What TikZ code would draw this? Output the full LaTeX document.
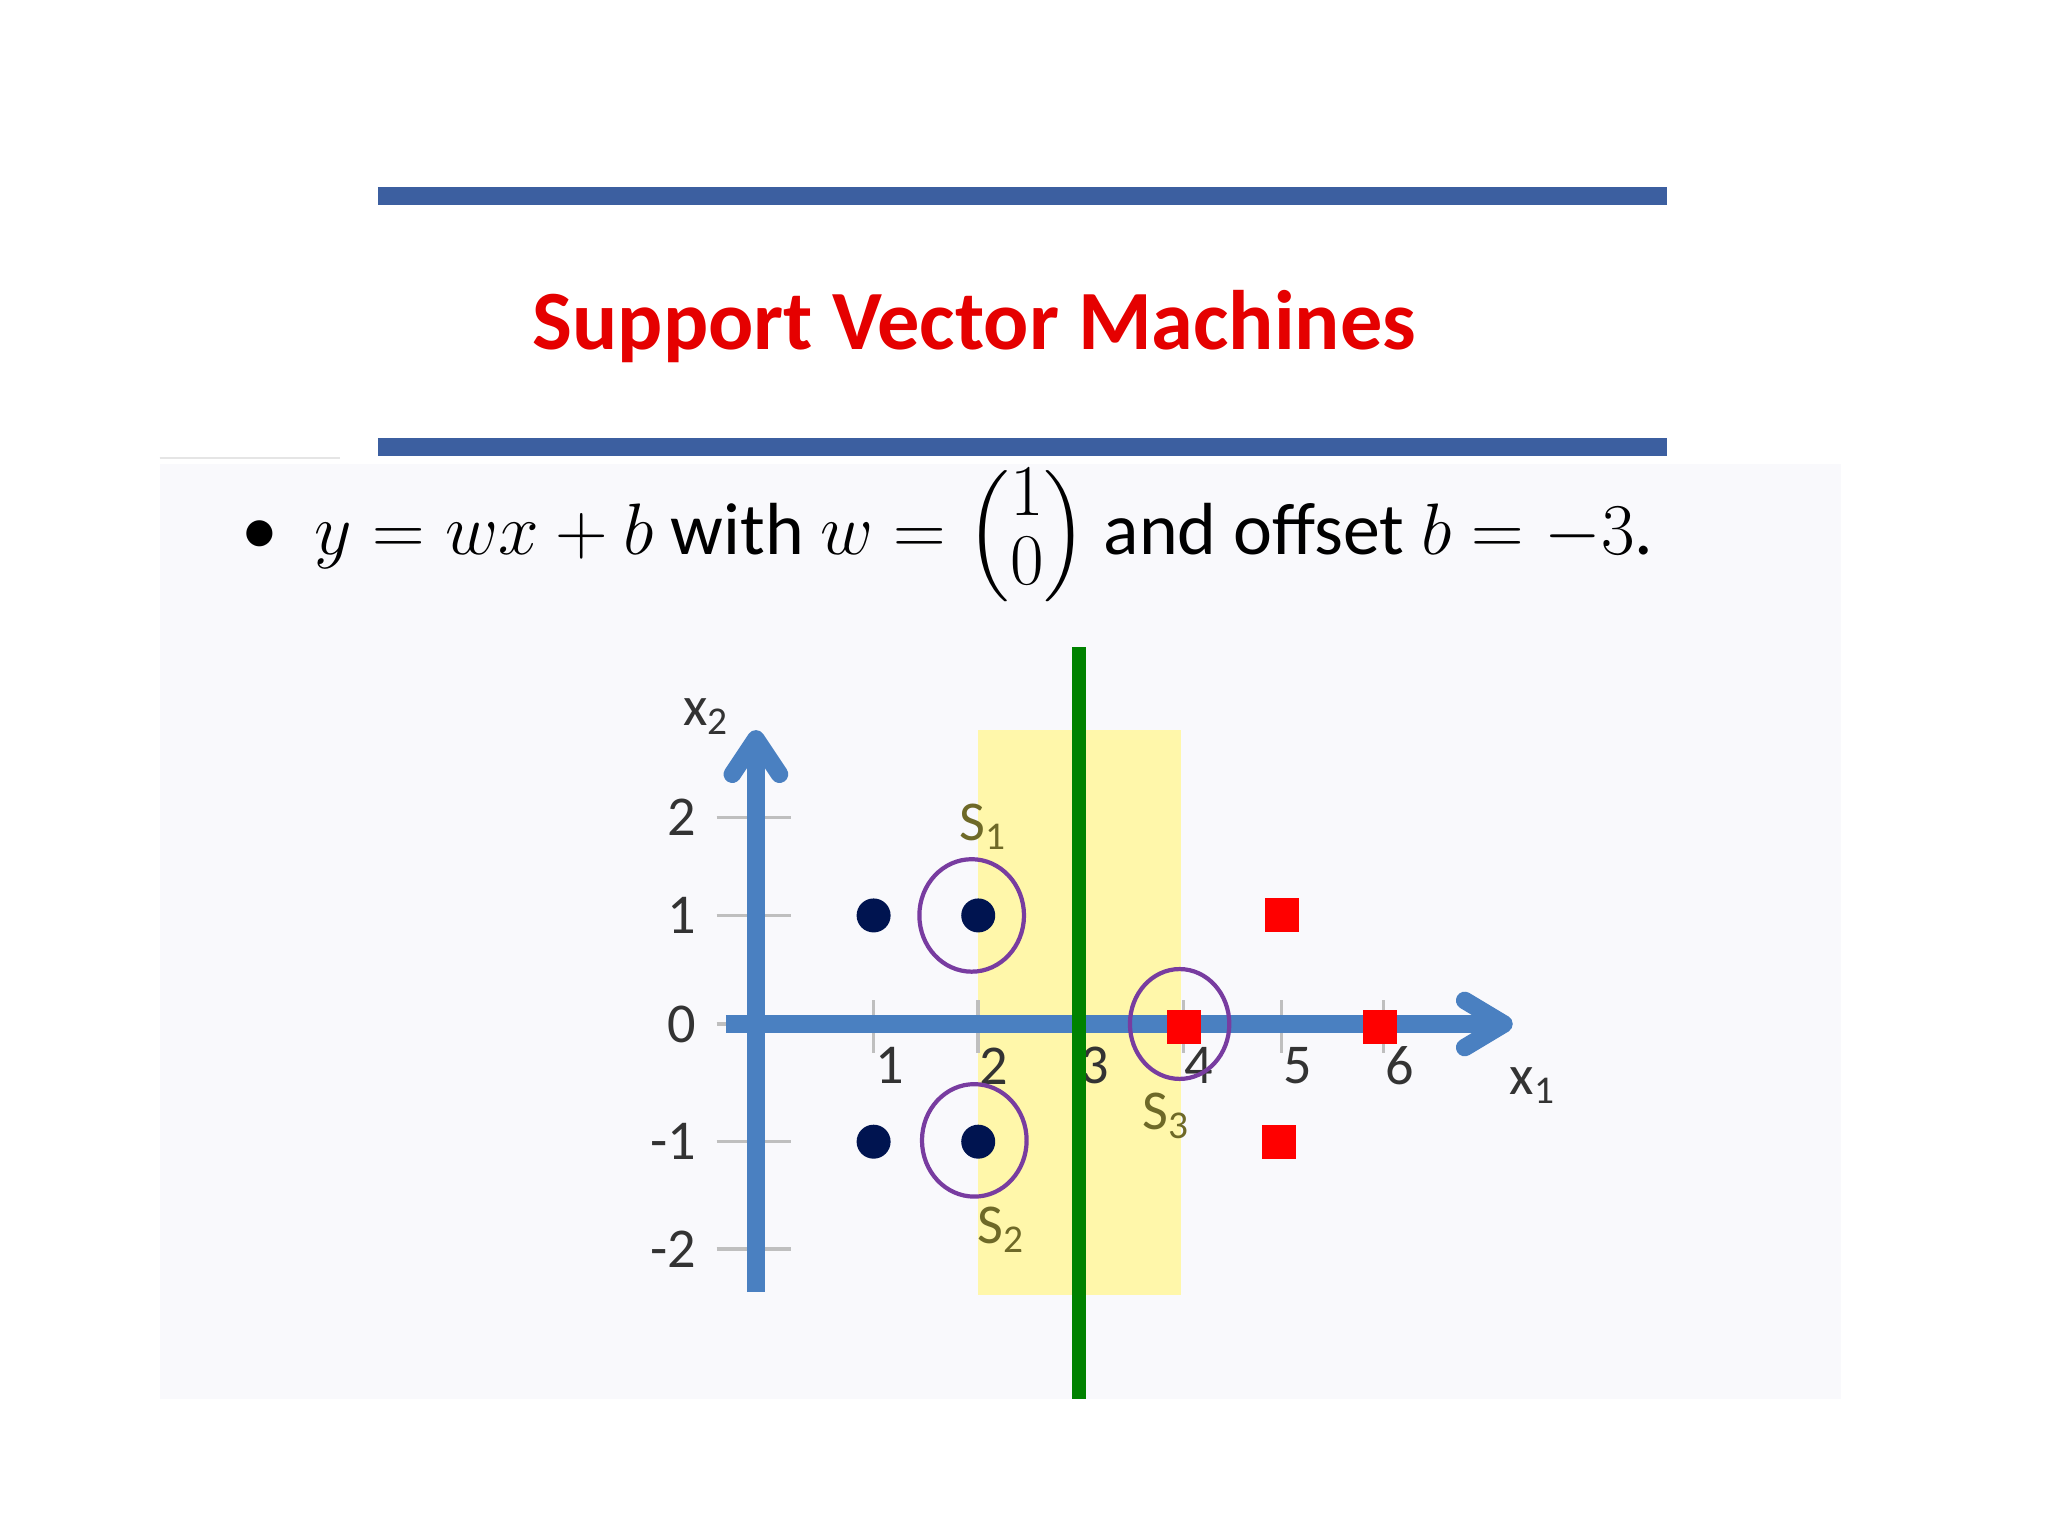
\documentclass[tikz,border=0pt]{standalone}
\usepackage{fontspec}
\usepackage{amsmath}
\newfontfamily\carl{Carlito}
\definecolor{axblue}{RGB}{74,128,193}
\definecolor{panel}{RGB}{249,249,252}
\definecolor{rule}{RGB}{60,95,160}
\definecolor{band}{RGB}{255,247,170}
\definecolor{navy}{RGB}{0,20,80}
\definecolor{svc}{RGB}{120,60,160}
\definecolor{gline}{RGB}{0,130,0}
\definecolor{slab}{RGB}{110,105,40}
\begin{document}
\begin{tikzpicture}[x=0.013078cm,y=-0.013078cm,
  ax/.style={draw=axblue,line width=5pt},
  tk/.style={draw=gray!50,line width=1pt},
  lbl/.style={font=\carl\fontsize{16}{18}\selectfont,text=black!80},
  dot/.style={circle,fill=navy,minimum size=0.34cm,inner sep=0},
  sq/.style={rectangle,fill=red,minimum size=0.34cm,inner sep=0},
  sv/.style={draw=svc,line width=1.2pt}]
\useasboundingbox (0,0) rectangle (1566,1174.5);
\fill[white] (0,0) rectangle (1566,1174.5);
\fill[panel] (122,355) rectangle (1408,1070);
\draw[gray!20,line width=0.6pt] (122,350) -- (260,350);
\draw[rule,line width=5pt] (289,150) -- (1275,150);
\draw[rule,line width=5pt] (289,342) -- (1275,342);
\node (title) at (745,250) {\carl\bfseries\color{red!90!black}\fontsize{24}{28}\selectfont Support Vector Machines};
\node[anchor=west] (eq) at (175,410) {\carl\fontsize{21}{26}\selectfont \textbullet\hspace{0.5em}$y=wx+b$ with $w=\left(\renewcommand{\arraystretch}{0.75}\begin{array}{@{}c@{}}1\\0\end{array}\right)$ and offset $b=-3$.};
\fill[band] (748,558) rectangle (903,990);
\foreach \yy/\t in {625/2,700/1,783/0,873/-1,955/-2}{
  \draw[tk] (548,\yy) -- (605,\yy);
  \node[lbl,anchor=east] at (542,\yy) {\t};}
\foreach \xx/\t in {668/1,748/2,825/3,905/4,980/5,1058/6}{
  \draw[tk] (\xx,765) -- (\xx,805);
  \node[lbl] at (\xx+12,815) {\t};}
\draw[ax] (555,783) -- (1145,783);
\draw[ax] (578,988) -- (578,570);
\draw[ax,line cap=round,line join=round] (1120,765) -- (1150,783) -- (1120,801);
\draw[ax,line cap=round,line join=round] (560,592) -- (578,565) -- (596,592);
\draw[gline,line width=4pt] (825,495) -- (825,1070);
\node[lbl] (xtwo) at (540,548) {x\textsubscript{2}};
\node[lbl] (xone) at (1172,830) {x\textsubscript{1}};
\node[dot] (a1) at (668,700) {};
\node[dot] (a2) at (748,700) {};
\node[dot] (a3) at (668,873) {};
\node[dot] (a4) at (748,873) {};
\node[sq] (b1) at (980,700) {};
\node[sq] (b2) at (905,785) {};
\node[sq] (b3) at (1055,785) {};
\node[sq] (b4) at (978,873) {};
\draw[sv] (743,700) ellipse [x radius=40,y radius=43];
\draw[sv] (745,872) ellipse [x radius=40,y radius=43];
\draw[sv] (902,783) ellipse [x radius=38,y radius=42];
\node[lbl,text=slab] (s1) at (752,632) {S\textsubscript{1}};
\node[lbl,text=slab] (s2) at (766,940) {S\textsubscript{2}};
\node[lbl,text=slab] (s3) at (892,853) {S\textsubscript{3}};
\end{tikzpicture}
\end{document}
